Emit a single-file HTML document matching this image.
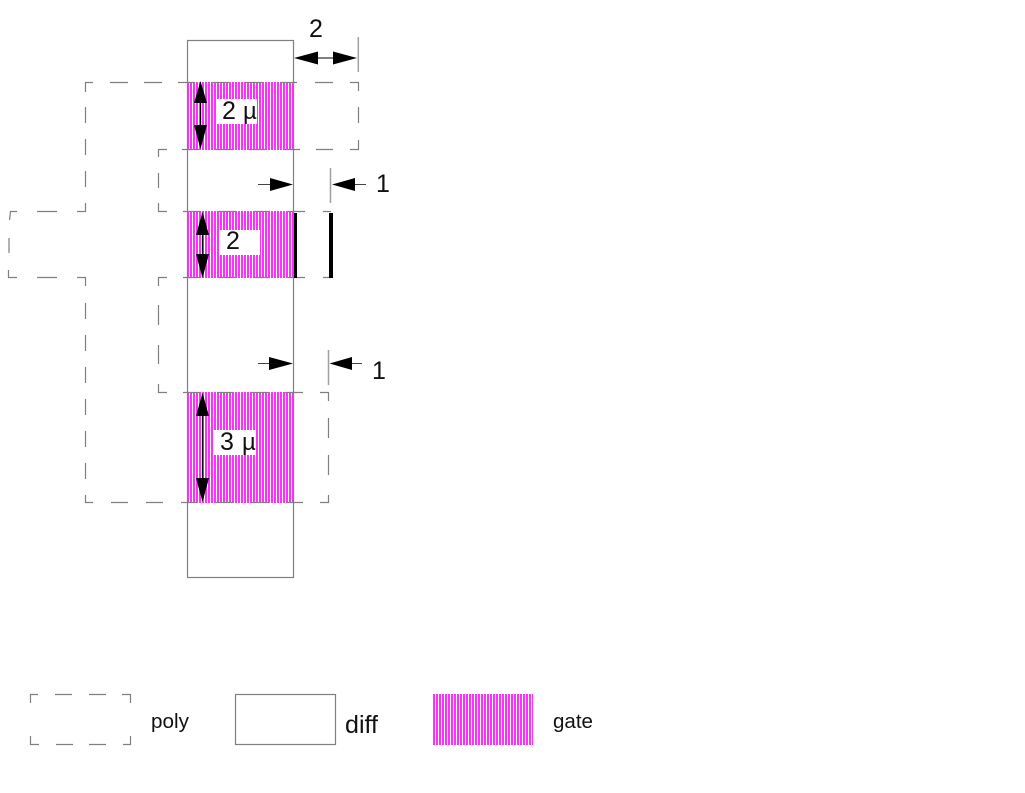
<!DOCTYPE html>
<html>
<head>
<meta charset="utf-8">
<style>
html,body{margin:0;padding:0;background:#fff;width:1025px;height:793px;overflow:hidden}
svg{display:block}
text{font-family:"Liberation Sans",sans-serif;fill:#111}
</style>
</head>
<body>
<svg width="1025" height="793" viewBox="0 0 1025 793" xmlns="http://www.w3.org/2000/svg">
<defs>
<pattern id="h" x="187" y="0" width="3" height="4" patternUnits="userSpaceOnUse">
<rect width="3" height="4" fill="#ffffff"/>
<rect width="2" height="4" fill="#ff30ff"/>
</pattern>
</defs>
<rect width="1025" height="793" fill="#fff"/>

<!-- gates -->
<rect x="187" y="82" width="107" height="68" fill="url(#h)"/>
<rect x="187" y="211" width="107" height="67" fill="url(#h)"/>
<rect x="187" y="392" width="107" height="111" fill="url(#h)"/>
<rect x="432" y="694" width="101" height="51" fill="url(#h)"/>

<!-- poly dashes -->
<path fill="none" stroke="#808080" stroke-width="1.2" d="
M93,82.5H85.5V92M110,82.5H128M144,82.5H162M178,82.5H195M212,82.5H229M246,82.5H263M280,82.5H297M315,82.5H333M350,82.5H358.5V91
M358.5,107V123M358.5,140V149.5H350M333,149.5H316M300,149.5H283M266,149.5H249M233,149.5H216M199,149.5H182M167,149.5H158.5V157
M158.5,173V188M158.5,203V211.5H167M183,211.5H200M219,211.5H236M253,211.5H270M288,211.5H305M323,211.5H331
M331,277.5H323M305,277.5H288M270,277.5H253M236,277.5H219M200,277.5H183M167,277.5H158.5V286
M158.5,305V325M158.5,345V364M158.5,384V392.5H167M183,392.5H200M217,392.5H234M251,392.5H268M285,392.5H303M320,392.5H328.5V401
M328.5,418V438M328.5,455V475M328.5,495V502.5H320M303,502.5H286M268,502.5H251M233,502.5H216M198,502.5H181M163,502.5H146M128,502.5H111M93,502.5H85.5V495
M85.5,479V463M85.5,447V431M85.5,415V399M85.5,383V367M85.5,351V335M85.5,319V303M85.5,286V277.5H77M57,277.5H37M17,277.5H8.5V270
M9,253V238M9.5,220L10.5,211.5H17M37,211.5H57M77,211.5H85.5V203M85.5,187V171M85.5,155V139M85.5,123V107
M38,694.5H30.5V703M55,694.5H72M89,694.5H106M122,694.5H130.5V703M130.5,736V744.5H123M106,744.5H89M73,744.5H56M39,744.5H30.5V736"/>

<!-- diff -->
<rect x="187.5" y="40.5" width="106" height="537" fill="none" stroke="#808080" stroke-width="1.2"/>
<rect x="235.5" y="694.5" width="100" height="50" fill="none" stroke="#808080" stroke-width="1.2"/>

<!-- extension lines -->
<path fill="none" stroke="#a0a0a0" stroke-width="1.5" d="M358.3,37V72M330.5,168V203M328.5,350V385"/>

<!-- thick bars -->
<rect x="294" y="213" width="3" height="65" fill="#000"/>
<rect x="329" y="213" width="4" height="65" fill="#000"/>

<!-- label backgrounds -->
<rect x="216" y="99" width="41" height="25" fill="#fff"/>
<rect x="219" y="230" width="41" height="25" fill="#fff"/>
<rect x="213" y="430" width="43" height="25" fill="#fff"/>

<!-- arrows -->
<g fill="#000" stroke="none">
<polygon points="294,58 318,51.500 318,64.500"/>
<polygon points="357,58 333,51.500 333,64.500"/>
<rect x="318" y="57.500" width="15" height="1"/>

<polygon points="200.500,81 194,103 207,103"/>
<polygon points="200.500,149 194,125 207,125"/>
<rect x="200" y="103" width="1.200" height="22"/>

<polygon points="202.500,212 196,235 209,235"/>
<polygon points="202.500,278 196,254 209,254"/>
<rect x="202" y="235" width="1.200" height="19"/>

<polygon points="202.500,393 196,416 209,416"/>
<polygon points="202.500,502 196,478 209,478"/>
<rect x="202" y="416" width="1.200" height="62"/>

<polygon points="293,184.500 270,178 270,191"/>
<polygon points="332,184.500 355,178 355,191"/>
<polygon points="293,363.500 269,357 269,370"/>
<polygon points="329.500,363.500 352,357 352,370"/>
</g>
<path fill="none" stroke="#444" d="M258,184.500H270M355,184.500H366M258,363.500H269M352,363.500H362"/>

<!-- labels -->
<text x="309" y="37" font-size="25">2</text>
<text x="222" y="119" font-size="25">2</text>
<text x="243" y="119" font-size="24">µ</text>
<text x="226" y="249" font-size="25">2</text>
<text x="220" y="450" font-size="25">3</text>
<text x="242" y="450" font-size="24">µ</text>
<text x="376" y="192" font-size="25">1</text>
<text x="372" y="379" font-size="25">1</text>
<text x="151" y="728" font-size="20" textLength="38" lengthAdjust="spacingAndGlyphs">poly</text>
<text x="345" y="733" font-size="25" textLength="33" lengthAdjust="spacingAndGlyphs">diff</text>
<text x="553" y="728" font-size="20" textLength="40" lengthAdjust="spacingAndGlyphs">gate</text>
</svg>
</body>
</html>
